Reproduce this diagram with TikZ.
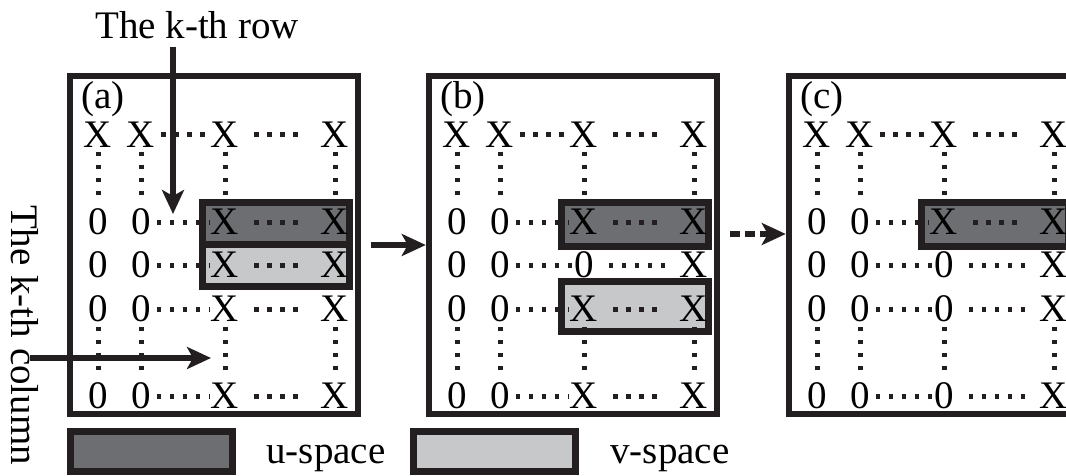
\documentclass[tikz,border=0pt]{standalone}
\usepackage{fontspec}
\setmainfont{Liberation Serif}
\usetikzlibrary{arrows.meta,calc}
\pgfdeclarelayer{dotl}
\pgfdeclarelayer{boxl}
\pgfsetlayers{boxl,dotl,main}
\definecolor{ink}{HTML}{231F20}
\definecolor{ugray}{HTML}{6D6E71}
\definecolor{vgray}{HTML}{C7C8CA}
\tikzset{
 txt/.style={font=\fontsize{39}{39}\selectfont, text=black, inner sep=0pt},
 ent/.style={txt, text height=25.5pt, text depth=0pt},
 frame/.style={draw=ink, line width=6.5pt, minimum width=288pt, minimum height=338pt, inner sep=0pt},
 dotline/.style={draw=ink, line width=5pt, dash pattern=on 4.5pt off 8.5pt},
 ubox/.style={draw=ink, fill=ugray, line width=7pt},
 vbox/.style={draw=ink, fill=vgray, line width=7pt},
 arr/.style={draw=ink, line width=5.5pt, -{Stealth[length=24pt,width=22pt,inset=6pt]}},
 legbox/.style={draw=ink, line width=7pt, minimum width=162pt, minimum height=40pt, inner sep=0pt},
}
\begin{document}
\begin{tikzpicture}[x=1pt,y=-1pt]
\useasboundingbox (0,0) rectangle (1066,476);
\clip (0,0) rectangle (1066,476);

% panels
\foreach \p/\L/\cA/\cB/\cC in {a/70/X/X/X, b/429/0/X/X, c/789/0/0/0} {
  \node[frame] (\p) at (\L+144,245) {};
  \node[txt, anchor=north west] (\p-lab) at (\L+11,81) {(\p)};
  \foreach \r/\y in {1/135,2/222,3/265,4/309,5/396} {
    \node[ent] (\p-\r-1) at (\L+28,\y) {\ifnum\r=1 X\else 0\fi};
    \node[ent] (\p-\r-2) at (\L+71,\y) {\ifnum\r=1 X\else 0\fi};
    \node[ent] (\p-\r-3) at (\L+155,\y) {\ifcase\r\or X\or X\or \cA\or \cB\or \cC\fi};
    \node[ent] (\p-\r-4) at (\L+265,\y) {X};
  }
  \begin{pgfonlayer}{dotl}
    \foreach \r in {1,...,5} {
      \draw[dotline, shorten <=6pt, shorten >=1pt] (\p-\r-2) -- (\p-\r-3);
      \draw[dotline, shorten <=15pt, shorten >=15pt] (\p-\r-3) -- (\p-\r-4);
    }
    \foreach \c in {1,...,4} {
      \draw[dotline, shorten <=4pt, shorten >=6pt] (\p-1-\c) -- (\p-2-\c);
      \draw[dotline, shorten <=5pt, shorten >=5pt] (\p-4-\c) -- (\p-5-\c);
    }
  \end{pgfonlayer}
  \begin{pgfonlayer}{boxl}
    \node[ubox, minimum width=147pt, minimum height=44pt, inner sep=0pt] (\p-u) at (\L+205.5, \ifx\p a 215 \else 224\fi) {};
  \end{pgfonlayer}
}

\begin{pgfonlayer}{boxl}
  \node[vbox, minimum width=147pt, minimum height=42pt, inner sep=0pt] (a-v) at (70+205.5,265.5) {};
  \node[vbox, minimum width=147pt, minimum height=50pt, inner sep=0pt] (b-v) at (429+205.5,306.5) {};
\end{pgfonlayer}

% arrows between panels
\draw[arr] ([xshift=10pt]a.east) -- (b.west);
\draw[arr, dash pattern=on 10pt off 5pt] ([xshift=10pt,yshift=11pt]b.east) -- ([yshift=11pt]c.west);

% k-th row
\node[txt] (krow) at (197,25) {The k-th row};
\coordinate (rowtip) at (173,214);
\draw[arr] (krow.south -| rowtip) ++(0,8) -- (rowtip);

% k-th column
\node[txt, rotate=-90] (kcol) at (25,335) {The k-th column};
\coordinate (coltip) at (211,358);
\draw[arr] (kcol.center |- coltip) ++(5,0) -- (coltip);

% legend
\node[legbox, fill=ugray] (legu) at (151,451) {};
\node[txt, anchor=base] (legut) at (326,463) {u-space};
\node[legbox, fill=vgray] (legv) at (494,451) {};
\node[txt, anchor=base] (legvt) at (670,463) {v-space};
\end{tikzpicture}
\end{document}
